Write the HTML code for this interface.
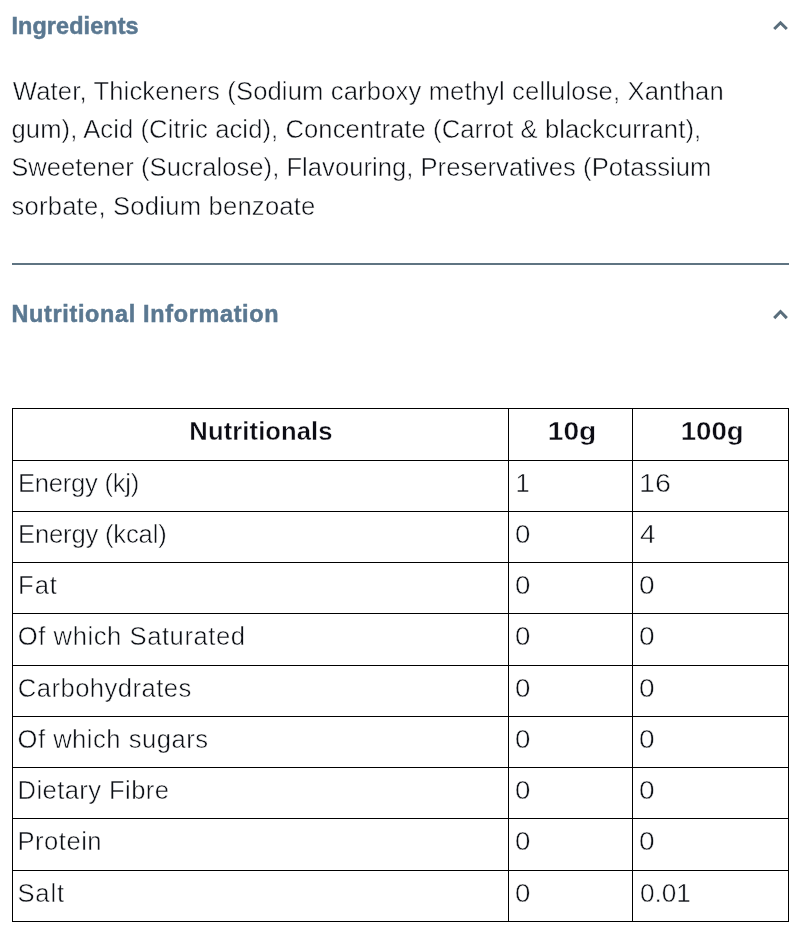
<!DOCTYPE html>
<html lang="en">
<head>
<meta charset="utf-8">
<title>Ingredients &amp; Nutritional Information</title>
<style>
html,body{margin:0;padding:0;background:#fff;}
body{width:810px;height:939px;position:relative;overflow:hidden;font-family:"Liberation Sans",sans-serif;color:#0b0e14;}
h2{position:absolute;left:12px;margin:0;font-size:23.4px;line-height:30px;font-weight:700;color:#5a7891;white-space:nowrap;}
h2 span,td span,th span{display:inline-block;}
td span{transform-origin:0 50%;}
#h-ing{top:11px;}
#h-nut{top:299px;}
.chev{position:absolute;left:771px;width:19px;height:13px;}
#c1{top:19px;}
#c2{top:308px;}
p.ing,td{-webkit-text-stroke:0.5px #fff;}
th{-webkit-text-stroke:0.4px #fff;}
h2{-webkit-text-stroke:0.5px #5a7891;}
p.ing{position:absolute;left:12px;top:72.06px;margin:0;font-size:25.6px;line-height:38.15px;white-space:nowrap;}
p.ing span{display:block;transform-origin:0 50%;}
hr{position:absolute;left:12px;top:263px;width:777px;height:2px;margin:0;border:0;background:#5f7482;}
table{position:absolute;left:12px;top:408px;width:777px;border-collapse:collapse;table-layout:fixed;font-size:25.6px;line-height:30px;}
td,th{border:1px solid #000;padding:6.5px 0 0 7px;vertical-align:top;text-align:left;font-weight:400;white-space:nowrap;overflow:hidden;}
th{font-weight:700;text-align:center;padding-left:0;color:#0c0c14;}
</style>
</head>
<body>
<h2 id="h-ing"><span id="h1" style="letter-spacing:0.10px;position:relative;left:-0.5px;">Ingredients</span></h2>
<svg class="chev" id="c1" viewBox="0 0 19 13"><path d="M3.2 10.05 L9.5 3.75 L15.8 10.05" fill="none" stroke="#5a6e7c" stroke-width="3"/></svg>
<p class="ing"><span id="l1" style="letter-spacing:0.14px;position:relative;left:0.8px;">Water, Thickeners (Sodium carboxy methyl cellulose, Xanthan</span><span id="l2" style="letter-spacing:0.09px;position:relative;left:-0.5px;">gum), Acid (Citric acid), Concentrate (Carrot &amp; blackcurrant),</span><span id="l3" style="letter-spacing:0.03px;position:relative;left:-0.8px;">Sweetener (Sucralose), Flavouring, Preservatives (Potassium</span><span id="l4" style="letter-spacing:0.22px;position:relative;left:-0.5px;">sorbate, Sodium benzoate</span></p>
<hr>
<h2 id="h-nut"><span id="h2" style="letter-spacing:0.68px;position:relative;left:-0.5px;">Nutritional Information</span></h2>
<svg class="chev" id="c2" viewBox="0 0 19 13"><path d="M3.2 10.1 L9.5 3.55 L15.8 10.1" fill="none" stroke="#5a6e7c" stroke-width="3"/></svg>
<table>
<colgroup><col style="width:496px"><col style="width:124px"><col style="width:156px"></colgroup>
<thead>
<tr style="height:52px"><th><span id="th1" style="letter-spacing:0.09px;position:relative;left:0.5px;">Nutritionals</span></th><th><span id="th2" style="transform:scaleX(1.100);position:relative;left:1.2px;">10g</span></th><th><span id="th3" style="transform:scaleX(1.080);position:relative;left:1.2px;">100g</span></th></tr>
</thead>
<tbody>
<tr style="height:51px"><td><span id="r0a" style="letter-spacing:-0.25px;position:relative;left:-2.0px;">Energy (kj)</span></td><td><span id="r0b" style="position:relative;left:-0.5px;">1</span></td><td><span id="r0c" style="transform:scaleX(1.123);position:relative;left:-1.5px;">16</span></td></tr>
<tr style="height:51px"><td><span id="r1a" style="letter-spacing:-0.17px;position:relative;left:-2.0px;">Energy (kcal)</span></td><td><span id="r1b" style="transform:scaleX(1.083);position:relative;left:-1.2px;">0</span></td><td><span id="r1c" style="transform:scaleX(1.098);position:relative;left:-0.5px;">4</span></td></tr>
<tr style="height:51px"><td><span id="r2a" style="letter-spacing:1.00px;position:relative;left:-2.0px;">Fat</span></td><td><span id="r2b" style="transform:scaleX(1.083);position:relative;left:-1.2px;">0</span></td><td><span id="r2c" style="transform:scaleX(1.098);position:relative;left:-1.0px;">0</span></td></tr>
<tr style="height:52px"><td><span id="r3a" style="letter-spacing:0.56px;position:relative;left:-2.2px;">Of which Saturated</span></td><td><span id="r3b" style="transform:scaleX(1.083);position:relative;left:-1.2px;">0</span></td><td><span id="r3c" style="transform:scaleX(1.098);position:relative;left:-1.0px;">0</span></td></tr>
<tr style="height:51px"><td><span id="r4a" style="letter-spacing:0.46px;position:relative;left:-2.2px;">Carbohydrates</span></td><td><span id="r4b" style="transform:scaleX(1.083);position:relative;left:-1.2px;">0</span></td><td><span id="r4c" style="transform:scaleX(1.098);position:relative;left:-1.0px;">0</span></td></tr>
<tr style="height:51px"><td><span id="r5a" style="letter-spacing:0.50px;position:relative;left:-2.5px;">Of which sugars</span></td><td><span id="r5b" style="transform:scaleX(1.083);position:relative;left:-1.2px;">0</span></td><td><span id="r5c" style="transform:scaleX(1.098);position:relative;left:-1.0px;">0</span></td></tr>
<tr style="height:51px"><td><span id="r6a" style="letter-spacing:0.42px;position:relative;left:-2.5px;">Dietary Fibre</span></td><td><span id="r6b" style="transform:scaleX(1.083);position:relative;left:-1.2px;">0</span></td><td><span id="r6c" style="transform:scaleX(1.098);position:relative;left:-1.0px;">0</span></td></tr>
<tr style="height:52px"><td><span id="r7a" style="letter-spacing:0.50px;position:relative;left:-2.5px;">Protein</span></td><td><span id="r7b" style="transform:scaleX(1.083);position:relative;left:-1.2px;">0</span></td><td><span id="r7c" style="transform:scaleX(1.098);position:relative;left:-1.0px;">0</span></td></tr>
<tr style="height:51px"><td><span id="r8a" style="letter-spacing:0.80px;position:relative;left:-2.5px;">Salt</span></td><td><span id="r8b" style="transform:scaleX(1.083);position:relative;left:-1.2px;">0</span></td><td><span id="r8c" style="transform:scaleX(1.022);position:relative;left:-0.5px;">0.01</span></td></tr>
</tbody>
</table>
</body>
</html>
